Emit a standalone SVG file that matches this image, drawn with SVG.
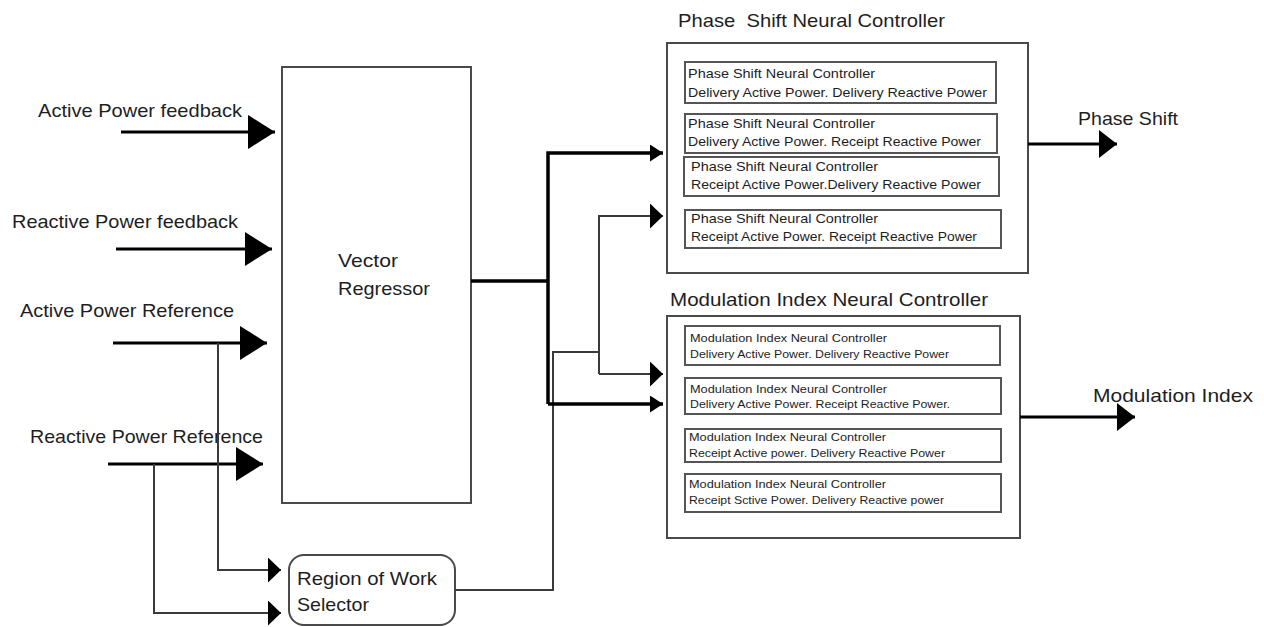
<svg xmlns="http://www.w3.org/2000/svg" width="1264" height="627" viewBox="0 0 1264 627">
<style>
text{font-family:"Liberation Sans",Arial,sans-serif;fill:#1e1e1e}
.lbl{font-size:19px}
.ttl{font-size:19px}
.ps{font-size:13px}
.mi{font-size:11.5px}
.box{fill:#fff;stroke:#4a4a4a;stroke-width:2}
.ibox{fill:#fff;stroke:#555;stroke-width:2}
.thick{fill:none;stroke:#000;stroke-width:3.5}
.thin{fill:none;stroke:#3a3a3a;stroke-width:2}
.in{fill:none;stroke:#000;stroke-width:3}
</style>
<defs>
<marker id="big" markerUnits="userSpaceOnUse" viewBox="0 0 27 34" markerWidth="27" markerHeight="34" refX="27" refY="17" orient="auto"><path d="M0,0 L27,17 L0,34 Z" fill="#000"/></marker>
<marker id="out" markerUnits="userSpaceOnUse" viewBox="0 0 18 28" markerWidth="18" markerHeight="28" refX="18" refY="14" orient="auto"><path d="M0,0 L18,14 L0,28 Z" fill="#000"/></marker>
<marker id="mid" markerUnits="userSpaceOnUse" viewBox="0 0 13 25" markerWidth="13" markerHeight="25" refX="13" refY="12.5" orient="auto"><path d="M0,0 L13,12.5 L0,25 Z" fill="#000"/></marker>
<marker id="thk" markerUnits="userSpaceOnUse" viewBox="0 0 13 17" markerWidth="13" markerHeight="17" refX="13" refY="8.5" orient="auto"><path d="M0,0 L13,8.5 L0,17 Z" fill="#000"/></marker>
</defs>
<rect width="1264" height="627" fill="#fff"/>

<g id="inputs">
<text class="lbl" x="38" y="117" textLength="204" lengthAdjust="spacingAndGlyphs">Active Power feedback</text>
<text class="lbl" x="12" y="228" textLength="226" lengthAdjust="spacingAndGlyphs">Reactive Power feedback</text>
<text class="lbl" x="20" y="317" textLength="214" lengthAdjust="spacingAndGlyphs">Active Power Reference</text>
<text class="lbl" x="30" y="443" textLength="233" lengthAdjust="spacingAndGlyphs">Reactive Power Reference</text>
</g>

<g id="vector-regressor">
<rect class="box" x="282" y="67" width="189" height="436"/>
<text class="lbl" x="338" y="267" textLength="60" lengthAdjust="spacingAndGlyphs">Vector</text>
<text class="lbl" x="338" y="295" textLength="92" lengthAdjust="spacingAndGlyphs">Regressor</text>
</g>

<g id="region-selector">
<rect class="box" x="289" y="555" width="166" height="70" rx="15"/>
<text class="lbl" x="297" y="585" textLength="140" lengthAdjust="spacingAndGlyphs">Region of Work</text>
<text class="lbl" x="297" y="611" textLength="72" lengthAdjust="spacingAndGlyphs">Selector</text>
</g>

<g id="phase-shift-controller">
<text class="ttl" x="678" y="27" textLength="267" lengthAdjust="spacingAndGlyphs" style="white-space:pre">Phase  Shift Neural Controller</text>
<rect class="box" x="667" y="43" width="361" height="230"/>
<rect class="ibox" x="685" y="62" width="311" height="41"/>
<text class="ps" x="688" y="78" textLength="187" lengthAdjust="spacingAndGlyphs">Phase Shift Neural Controller</text>
<text class="ps" x="688" y="97" textLength="299" lengthAdjust="spacingAndGlyphs">Delivery Active Power. Delivery Reactive Power</text>
<rect class="ibox" x="685" y="114" width="312" height="39"/>
<text class="ps" x="688" y="128" textLength="187" lengthAdjust="spacingAndGlyphs">Phase Shift Neural Controller</text>
<text class="ps" x="688" y="146" textLength="293" lengthAdjust="spacingAndGlyphs">Delivery Active Power. Receipt Reactive Power</text>
<rect class="ibox" x="684" y="157" width="315" height="39"/>
<text class="ps" x="691" y="171" textLength="187" lengthAdjust="spacingAndGlyphs">Phase Shift Neural Controller</text>
<text class="ps" x="691" y="189" textLength="290" lengthAdjust="spacingAndGlyphs">Receipt Active Power.Delivery Reactive Power</text>
<rect class="ibox" x="685" y="210" width="316" height="38"/>
<text class="ps" x="691" y="223" textLength="187" lengthAdjust="spacingAndGlyphs">Phase Shift Neural Controller</text>
<text class="ps" x="691" y="241" textLength="286" lengthAdjust="spacingAndGlyphs">Receipt Active Power. Receipt Reactive Power</text>
</g>

<g id="modulation-index-controller">
<text class="ttl" x="670" y="306" textLength="318" lengthAdjust="spacingAndGlyphs">Modulation Index Neural Controller</text>
<rect class="box" x="667" y="316" width="353" height="222"/>
<rect class="ibox" x="685" y="326" width="315" height="39"/>
<text class="mi" x="690" y="342" textLength="197" lengthAdjust="spacingAndGlyphs">Modulation Index Neural Controller</text>
<text class="mi" x="690" y="358" textLength="259" lengthAdjust="spacingAndGlyphs">Delivery Active Power. Delivery Reactive Power</text>
<rect class="ibox" x="685" y="378" width="316" height="36"/>
<text class="mi" x="690" y="393" textLength="197" lengthAdjust="spacingAndGlyphs">Modulation Index Neural Controller</text>
<text class="mi" x="690" y="408" textLength="260" lengthAdjust="spacingAndGlyphs">Delivery Active Power. Receipt Reactive Power.</text>
<rect class="ibox" x="685" y="429" width="316" height="33"/>
<text class="mi" x="689" y="441" textLength="197" lengthAdjust="spacingAndGlyphs">Modulation Index Neural Controller</text>
<text class="mi" x="689" y="457" textLength="256" lengthAdjust="spacingAndGlyphs">Receipt Active power. Delivery Reactive Power</text>
<rect class="ibox" x="685" y="474" width="316" height="38"/>
<text class="mi" x="689" y="488" textLength="197" lengthAdjust="spacingAndGlyphs">Modulation Index Neural Controller</text>
<text class="mi" x="689" y="504" textLength="255" lengthAdjust="spacingAndGlyphs">Receipt Sctive Power. Delivery Reactive power</text>
</g>

<g id="outputs">
<text class="lbl" x="1078" y="125" textLength="100" lengthAdjust="spacingAndGlyphs">Phase Shift</text>
<text class="lbl" x="1093" y="402" textLength="160" lengthAdjust="spacingAndGlyphs">Modulation Index</text>
</g>

<g id="connectors">
<path class="in" d="M121,132 H275" marker-end="url(#big)"/>
<path class="in" d="M116,249 H272" marker-end="url(#big)"/>
<path class="in" d="M113,343 H267" marker-end="url(#big)"/>
<path class="in" d="M108,464 H263" marker-end="url(#big)"/>
<path class="thin" d="M218,343 V570 H281" marker-end="url(#mid)"/>
<path class="thin" d="M154,464 V613 H281" marker-end="url(#mid)"/>
<path class="thin" d="M455,590 H553 V352 H599"/>
<path class="thin" d="M599,374 V216 H663" marker-end="url(#mid)"/>
<path class="thin" d="M599,374 H663" marker-end="url(#mid)"/>
<path class="thick" d="M471,281 H548"/>
<path class="thick" d="M548,404 V153 H663" marker-end="url(#thk)"/>
<path class="thick" d="M548,404 H663" marker-end="url(#thk)"/>
<path class="in" d="M1028,144 H1117" marker-end="url(#out)"/>
<path class="in" d="M1020,417 H1135" marker-end="url(#out)"/>
</g>
</svg>
